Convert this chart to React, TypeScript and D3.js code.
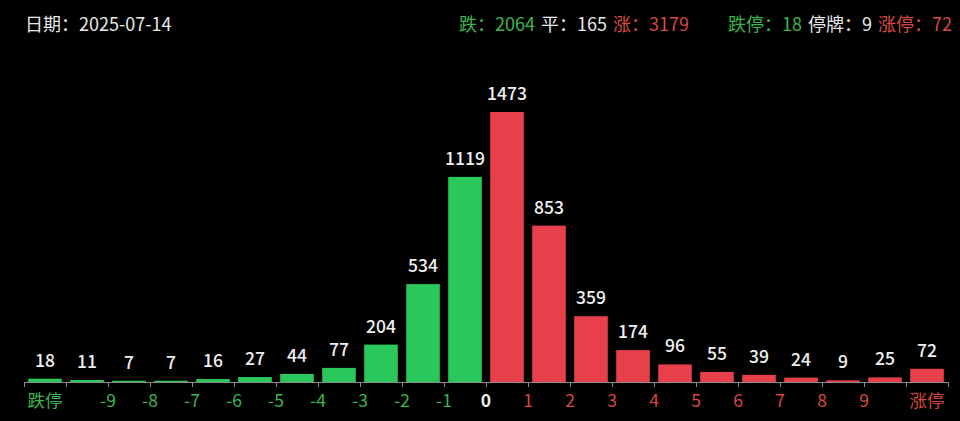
import React from "react";
import * as d3 from "d3";

const dateText = "2025-07-14";
const summary = { down: 2064, flat: 165, up: 3179, limitDown: 18, suspended: 9, limitUp: 72 };
const categories = ["跌停", "-10~-9", "-9~-8", "-8~-7", "-7~-6", "-6~-5", "-5~-4", "-4~-3", "-3~-2", "-2~-1", "-1~0",
  "0~1", "1~2", "2~3", "3~4", "4~5", "5~6", "6~7", "7~8", "8~9", "9~10", "涨停"];
const counts = [18, 11, 7, 7, 16, 27, 44, 77, 204, 534, 1119, 1473, 853, 359, 174, 96, 55, 39, 24, 9, 25, 72];
const boundaryLabels = ["-9", "-8", "-7", "-6", "-5", "-4", "-3", "-2", "-1", "0", "1", "2", "3", "4", "5", "6", "7", "8", "9"];
const boundaryStart = 2;

const W = 960, H = 421;
const GREEN = "#2ac85a";
const RED = "#e8404a";
const TXT_GREEN = "#3cb54e";
const TXT_RED = "#d9473f";
const FONT = "'Noto Sans CJK SC', 'Noto Sans', sans-serif";

export default function App() {
  const x = d3.scaleBand<string>().domain(categories).range([24, 948]).paddingInner(0.2).paddingOuter(0.1);
  const y = d3.scaleLinear().domain([0, 1473]).range([382, 112]);
  const step = x.step();
  const off = (step - x.bandwidth()) / 2;
  const boundary = (k: number) => (k < categories.length ? (x(categories[k]) as number) - off : (x(categories[categories.length - 1]) as number) - off + step);
  const ticks = d3.range(categories.length + 1);
  const base = y(0);

  return (
    <div style={{ position: "fixed", left: 0, top: 0, width: W, height: H, background: "#000" }}>
      <svg width={W} height={H} style={{ display: "block", fontFamily: FONT }}>
        <rect width={W} height={H} fill="#000" />
        <text x={25} y={31} fill="#e8e8e8" fontSize={18}>日期：{dateText}</text>
        <text x={689} y={31} fontSize={18} textAnchor="end">
          <tspan fill={TXT_GREEN}>跌：{summary.down}</tspan>
          <tspan fill="#e8e8e8" dx={6}>平：{summary.flat}</tspan>
          <tspan fill={TXT_RED} dx={6}>涨：{summary.up}</tspan>
        </text>
        <text x={952} y={31} fontSize={18} textAnchor="end">
          <tspan fill={TXT_GREEN}>跌停：{summary.limitDown}</tspan>
          <tspan fill="#e8e8e8" dx={6}>停牌：{summary.suspended}</tspan>
          <tspan fill={TXT_RED} dx={6}>涨停：{summary.limitUp}</tspan>
        </text>

        {categories.map((c, i) => (
          <g key={c}>
            <rect x={x(c)} y={y(counts[i])} width={x.bandwidth()} height={base - y(counts[i])} fill={i < 11 ? GREEN : RED} />
            <text x={(x(c) as number) + x.bandwidth() / 2} y={y(counts[i]) - 12} fill="#f0f0f0" fontSize={17.5} fontWeight={500} textAnchor="middle">{counts[i]}</text>
          </g>
        ))}

        <line x1={boundary(0)} x2={boundary(categories.length)} y1={base + 0.5} y2={base + 0.5} stroke="#8a8a8a" strokeWidth={1} />
        {ticks.map((k) => (
          <line key={k} x1={boundary(k) + 0.5} x2={boundary(k) + 0.5} y1={base} y2={base + 5} stroke="#8a8a8a" strokeWidth={1} />
        ))}
        <text x={(x(categories[0]) as number) + x.bandwidth() / 2} y={407} fill={TXT_GREEN} fontSize={17.5} textAnchor="middle">{categories[0]}</text>
        <text x={(x(categories[categories.length - 1]) as number) + x.bandwidth() / 2} y={407} fill={TXT_RED} fontSize={17.5} textAnchor="middle">{categories[categories.length - 1]}</text>
        {boundaryLabels.map((l, j) => {
          const v = +l;
          return (
            <text key={l} x={boundary(boundaryStart + j)} y={407} fontSize={17.5} textAnchor="middle"
              fill={v < 0 ? TXT_GREEN : v > 0 ? TXT_RED : "#f0f0f0"} fontWeight={v === 0 ? 700 : 400}>{l}</text>
          );
        })}
      </svg>
    </div>
  );
}
